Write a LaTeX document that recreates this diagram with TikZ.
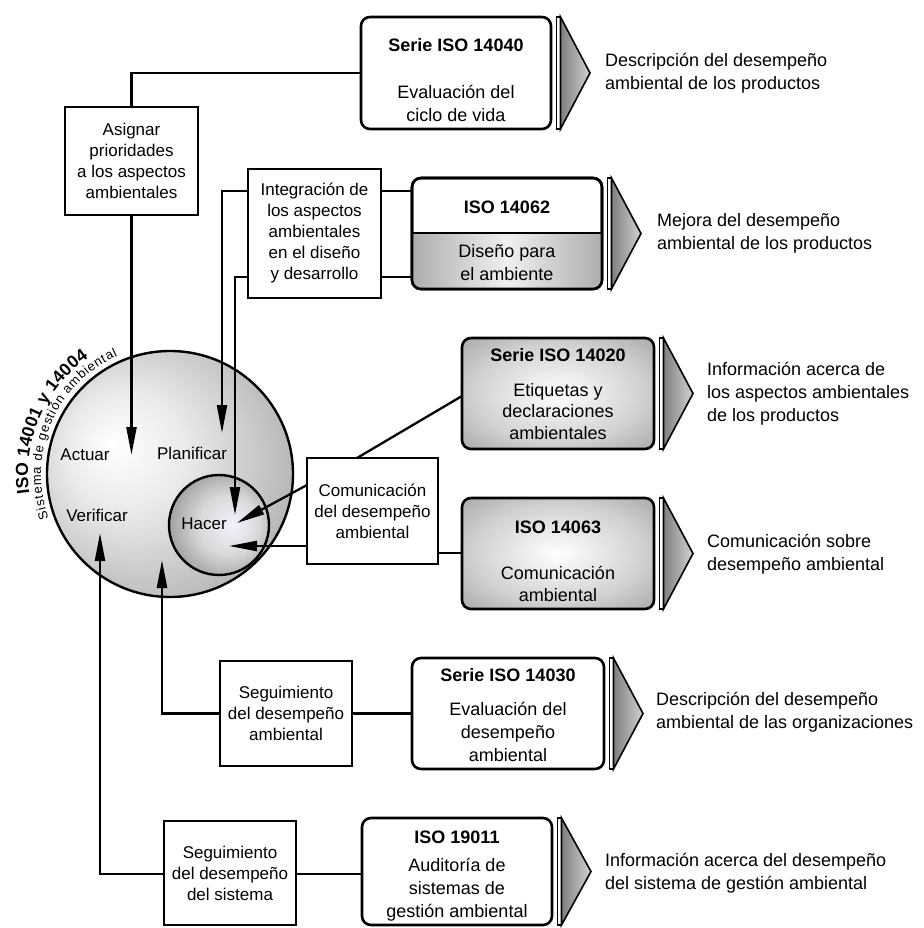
\documentclass[tikz,border=0pt]{standalone}
\usepackage{fontspec}
\setmainfont{Liberation Sans}
\usetikzlibrary{arrows.meta,decorations.text,calc}

\pgfdeclareradialshading{bigball}{\pgfpoint{-12bp}{6bp}}{color(0bp)=(white); color(12bp)=(black!8); color(30bp)=(black!28); color(50bp)=(black!55)}
\pgfdeclareradialshading{smallball}{\pgfpoint{7bp}{0bp}}{color(0bp)=(blue!5!white); color(15bp)=(black!15); color(35bp)=(black!48); color(50bp)=(black!80)}
\pgfdeclareradialshading{boxglow}{\pgfpoint{0bp}{0bp}}{color(0bp)=(white); color(22bp)=(black!18); color(50bp)=(black!50); color(72bp)=(black!75)}
\pgfdeclarehorizontalshading{hbar}{100bp}{color(0bp)=(black!58); color(50bp)=(black!6); color(100bp)=(black!58)}

\newcommand\mychev[1]{%
  \draw[line width=1.3pt, fill=white] ([xshift=5.5pt]#1.north east) rectangle ([xshift=9.5pt]#1.south east);
  \path[draw=black, line width=1.6pt, line join=miter, left color=black!50, right color=black!18]
    ([xshift=9.5pt]#1.north east) -- ([xshift=39pt]#1.east) -- ([xshift=9.5pt]#1.south east) -- cycle;}

\begin{document}
\begin{tikzpicture}[x=1pt,y=-1pt,
  every node/.style={inner sep=0pt, outer sep=0pt},
  lbox/.style={draw, line width=2.6pt, fill=white, align=center, font=\fontsize{17}{21}\selectfont},
  isobox/.style={draw, line width=2.6pt, rounded corners=9pt, fill=white},
  glowbox/.style={draw, line width=2.6pt, rounded corners=9pt, shading=boxglow, shade},
  ttl/.style={font=\bfseries\fontsize{18}{22}\selectfont},
  body/.style={align=center, font=\fontsize{18}{23}\selectfont},
  bodyt/.style={align=center, font=\fontsize{18}{21.5}\selectfont},
  desc/.style={anchor=west, align=left, font=\fontsize{18}{23}\selectfont},
  lbl/.style={font=\fontsize{17}{20}\selectfont},
  conn/.style={line width=2.3pt},
  arr/.style={conn, -{Triangle[length=28pt,width=10pt]}},
]
\useasboundingbox (0,0) rectangle (923,928);

% circles
\node[circle, draw, line width=2.4pt, shading=bigball, shade, minimum size=246pt] (big) at (170,474) {};
\node[circle, draw, line width=2.4pt, shading=smallball, shade, minimum size=100pt] (small) at (219,525) {};
\node[lbl] (act) at (85,455) {Actuar};
\node[lbl] (pla) at (192,453) {Planificar};
\node[lbl] (ver) at (97,515) {Verificar};
\node[lbl] (hac) at (204,524) {Hacer};

% curved labels
\path[decorate, decoration={text along path, text align=fit to path,
  text={|\bfseries\fontsize{17.5}{17.5}\selectfont|ISO 14001 y 14004}}]
  ($(big.center)+(172:142)$) arc[start angle=172, end angle=235, radius=142];
\path[decorate, decoration={text along path, text align=fit to path,
  text={|\fontsize{13}{13}\selectfont|Sistema de gestión ambiental}}]
  ($(big.center)+(160:129)$) arc[start angle=160, end angle=246, radius=129];

% left boxes
\node[lbox, minimum width=133pt, minimum height=108pt] (asig) at (131.5,161) {Asignar\\prioridades\\a los aspectos\\ambientales};
\node[lbox, minimum width=133pt, minimum height=129pt] (integ) at (314.5,233.5) {Integración de\\los aspectos\\ambientales\\en el diseño\\y desarrollo};
\node[lbox, minimum width=131pt, minimum height=106pt] (comm) at (372.5,511) {Comunicación\\del desempeño\\ambiental};
\node[lbox, minimum width=132pt, minimum height=105pt] (segA) at (286,713.5) {Seguimiento\\del desempeño\\ambiental};
\node[lbox, minimum width=132pt, minimum height=104pt] (segS) at (230,873) {Seguimiento\\del desempeño\\del sistema};

% ISO boxes
\node[isobox, minimum width=190pt, minimum height=112pt] (iso40) at (456,73) {};
\node[ttl] (t40) at (456,45) {Serie ISO 14040};
\node[body] (b40) at (456,103) {Evaluación del\\ciclo de vida};
\mychev{iso40}

\node[isobox, minimum width=190pt, minimum height=111pt] (iso62) at (507,233.5) {};
\begin{scope}
  \clip (400,233) rectangle (620,300);
  \path[rounded corners=9pt, shading=hbar, shade]
    (iso62.north west) rectangle (iso62.south east);
\end{scope}
\draw[line width=2.6pt, rounded corners=9pt] (iso62.north west) rectangle (iso62.south east);
\draw[line width=2.2pt] (iso62.west |- 0,233) -- (iso62.east |- 0,233);
\node[ttl] (t62) at (507,207) {ISO 14062};
\node[body] (b62) at (507,263) {Diseño para\\el ambiente};
\mychev{iso62}

\node[glowbox, minimum width=192pt, minimum height=111pt] (iso20) at (558,393.5) {};
\node[ttl] (t20) at (558,355) {Serie ISO 14020};
\node[bodyt] (b20) at (558,411.5) {Etiquetas y\\declaraciones\\ambientales};
\mychev{iso20}

\node[glowbox, minimum width=192pt, minimum height=111pt] (iso63) at (558,553.5) {};
\node[ttl] (t63) at (558,527) {ISO 14063};
\node[bodyt] (b63) at (558,584) {Comunicación\\ambiental};
\mychev{iso63}

\node[isobox, minimum width=192pt, minimum height=111pt] (iso30) at (508,713.5) {};
\node[ttl] (t30) at (508,675) {Serie ISO 14030};
\node[body] (b30) at (508,731.5) {Evaluación del\\desempeño\\ambiental};
\mychev{iso30}

\node[isobox, minimum width=190pt, minimum height=107pt] (iso19) at (457,871.5) {};
\node[ttl] (t19) at (457,837) {ISO 19011};
\node[body] (b19) at (457,890) {Auditoría de\\sistemas de\\gestión ambiental};
\mychev{iso19}

% descriptions
\node[desc] (d40) at (605,73.5) {Descripción del desempeño\\ambiental de los productos};
\node[desc] (d62) at (657,233.5) {Mejora del desempeño\\ambiental de los productos};
\node[desc] (d20) at (707,393.5) {Información acerca de\\los aspectos ambientales\\de los productos};
\node[desc] (d63) at (707,554) {Comunicación sobre\\desempeño ambiental};
\node[desc] (d30) at (656,712.5) {Descripción del desempeño\\ambiental de las organizaciones};
\node[desc] (d19) at (605,873.5) {Información acerca del desempeño\\del sistema de gestión ambiental};

% connectors
\coordinate (tA) at (131.5,455);
\coordinate (tP) at (222,433);
\coordinate (tH1) at (235,515);
\coordinate (tH2) at (237,523);
\coordinate (tH3) at (229,546);
\coordinate (tV1) at (162,560);
\coordinate (tV2) at (100,533);

\draw[conn] (asig.north) |- (iso40.west);
\draw[arr] (asig.south) -- (tA);
\draw[arr] (integ.west |- 0,191) -| (tP);
\draw[arr] (integ.west |- 0,277) -| (tH1);
\draw[conn] (integ.east |- 0,191) -- (iso62.west |- 0,191);
\draw[conn] (integ.east |- 0,277) -- (iso62.west |- 0,277);
\draw[conn] (comm.north -| 357,0) -- (iso20.west |- 0,396);
\draw[arr] (comm.west |- 0,485) -- (tH2);
\draw[arr] (comm.west |- 0,546) -- (tH3);
\draw[conn] (comm.east |- 0,553) -- (iso63.west |- 0,553);
\draw[arr] (segA.west) -| (tV1);
\draw[conn] (segA.east) -- (iso30.west);
\draw[arr] (segS.west |- 0,874) -| (tV2);
\draw[conn] (segS.east |- 0,874) -- (iso19.west |- 0,874);
\end{tikzpicture}
\end{document}
